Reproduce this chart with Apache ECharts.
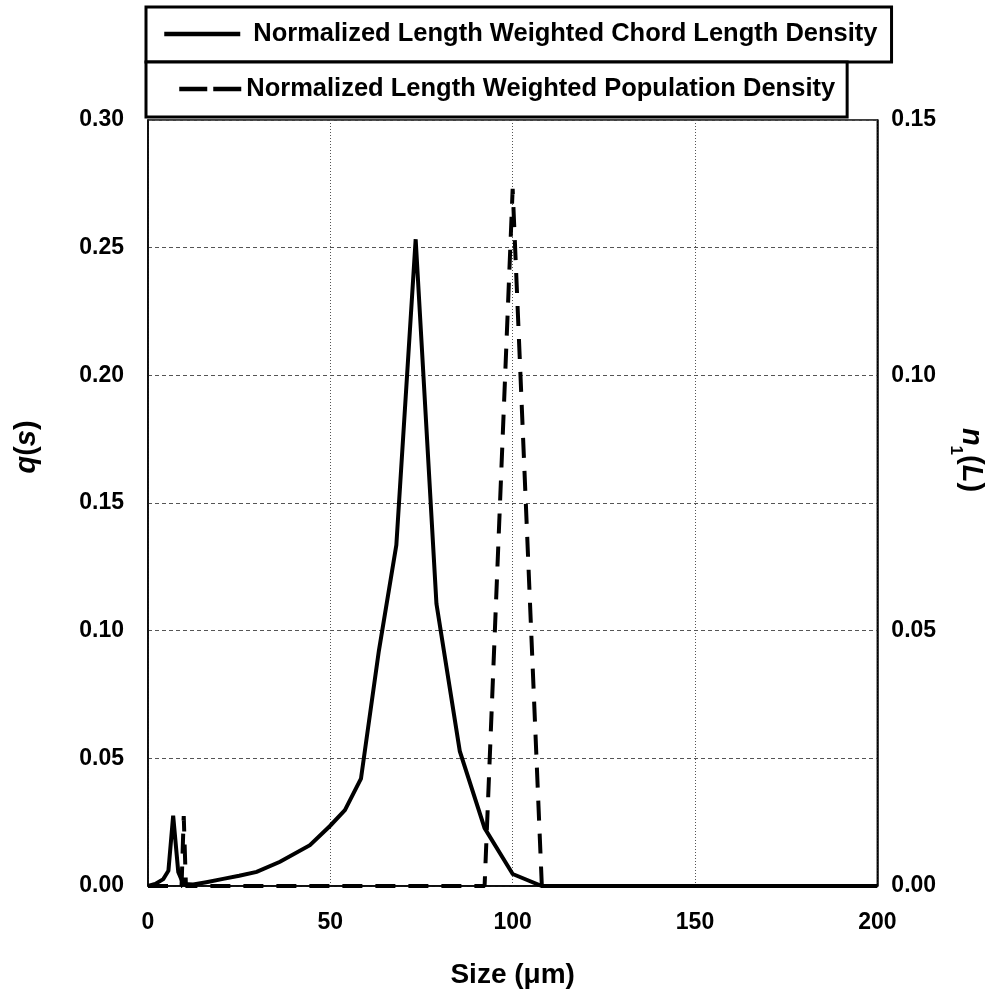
<!DOCTYPE html>
<html><head><meta charset="utf-8">
<script src="https://cdn.jsdelivr.net/npm/echarts@6/dist/echarts.min.js"></script>
<style>html,body{margin:0;padding:0;background:#fff}#c{width:993px;height:994px}</style>
</head><body><div id="c"></div>
<script>
const chordX = [0, 2, 4.2, 5.6, 6.9, 8.3, 9.7, 12.4, 16, 20.6, 25, 29.8, 36.2, 44.4, 49.9, 54, 58.4, 63.3, 68.1, 73.4, 79.1, 85.5, 92.3, 100, 108, 150, 200];
const chordY = [0, 0.0008, 0.0027, 0.006, 0.0275, 0.0055, 0.0008, 0.0006, 0.0015, 0.0028, 0.004, 0.0055, 0.0095, 0.016, 0.0235, 0.0297, 0.042, 0.092, 0.1335, 0.2533, 0.1105, 0.0528, 0.0227, 0.0047, 0, 0, 0];
const popX = [0, 9.2, 9.8, 10.4, 50, 92.3, 100, 108, 150, 200];
const popY = [0, 0, 0.0137, 0, 0, 0, 0.1365, 0, 0, 0];
const xTicks = [0, 50, 100, 150, 200];
const leftTicks = [0, 0.05, 0.10, 0.15, 0.20, 0.25, 0.30];
const rightTicks = [0, 0.05, 0.10, 0.15];
const seriesNames = ['Normalized Length Weighted Chord Length Density', 'Normalized Length Weighted Population Density'];

const FONT = "'Liberation Sans', Arial, sans-serif";
const chart = echarts.init(document.getElementById('c'));
const lab = {fontFamily: FONT, fontWeight: 'bold', fontSize: 23, color: '#000'};
const legTxt = {fontFamily: FONT, fontWeight: 'bold', fontSize: 25.5, color: '#000', lineHeight: 28};
chart.setOption({
  animation: false,
  backgroundColor: '#fff',
  grid: {left: 148, right: 115, top: 120, bottom: 107, show: true, borderColor: '#000', borderWidth: 1.5},
  legend: [
    {data: [seriesNames[0]], left: 146, top: 7, orient: 'horizontal',
     padding: [13, 14, 14, 16], itemWidth: 76, itemHeight: 20, itemGap: 15,
     borderColor: '#000', borderWidth: 3, backgroundColor: '#fff',
     itemStyle: {opacity: 0}, lineStyle: {width: 4.5, color: '#000', type: 'solid', opacity: 1},
     textStyle: Object.assign({}, legTxt, {padding: [0, 0, 0, 8]})},
    {data: [seriesNames[1]], left: 146, top: 62, orient: 'horizontal',
     padding: [13, 12, 14, 31], itemWidth: 62, itemHeight: 20, itemGap: 6,
     borderColor: '#000', borderWidth: 3, backgroundColor: '#fff',
     itemStyle: {opacity: 0}, lineStyle: {width: 4.5, color: '#000', type: [28, 6], opacity: 1},
     textStyle: legTxt}
  ],
  xAxis: {
    type: 'value', min: 0, max: 200, interval: 50,
    name: 'Size (μm)', nameLocation: 'middle', nameGap: 75,
    nameTextStyle: Object.assign({}, lab, {fontSize: 28}),
    axisLine: {lineStyle: {color: '#000', width: 1.5}},
    axisTick: {show: false},
    axisLabel: Object.assign({}, lab, {margin: 25, customValues: xTicks}),
    splitLine: {show: true, lineStyle: {color: '#555', type: [1, 2], width: 1}}
  },
  yAxis: [
    {type: 'value', min: 0, max: 0.30, interval: 0.05, position: 'left',
     name: '{i|q}{n|(}{i|s}{n|)}', nameLocation: 'middle', nameGap: 107, nameRotate: 90,
     nameTextStyle: {padding: [0, 0, 0, 112], rich: {
       i: Object.assign({}, lab, {fontSize: 29, fontStyle: 'italic'}),
       n: Object.assign({}, lab, {fontSize: 29})}},
     axisLine: {show: true, lineStyle: {color: '#000', width: 1.5}},
     axisTick: {show: false},
     axisLabel: Object.assign({}, lab, {margin: 24, formatter: v => v.toFixed(2)}),
     splitLine: {show: true, lineStyle: {color: '#555', type: [4, 3], width: 1}}},
    {type: 'value', min: 0, max: 0.15, interval: 0.05, position: 'right',
     name: '{i|n}{s|1}{n|(}{i|L}{n|)}', nameLocation: 'middle', nameGap: 66, nameRotate: -90,
     nameTextStyle: {padding: [0, 86, 0, 0], rich: {
       i: Object.assign({}, lab, {fontSize: 29, fontStyle: 'italic', verticalAlign: 'top', lineHeight: 32}),
       s: Object.assign({}, lab, {fontSize: 17, verticalAlign: 'top', lineHeight: 16, padding: [21, 0, 0, 0]}),
       n: Object.assign({}, lab, {fontSize: 29, verticalAlign: 'top', lineHeight: 32})}},
     axisLine: {show: true, lineStyle: {color: '#000', width: 1.5}},
     axisTick: {show: false},
     axisLabel: Object.assign({}, lab, {margin: 14, formatter: v => v.toFixed(2)}),
     splitLine: {show: false}}
  ],
  series: [
    {name: seriesNames[0], type: 'line', yAxisIndex: 0,
     symbol: 'none', data: chordX.map((x, i) => [x, chordY[i]]),
     lineStyle: {color: '#000', width: 4, join: 'miter'}, itemStyle: {color: '#000'}, z: 3},
    {name: seriesNames[1], type: 'line', yAxisIndex: 1,
     symbol: 'none', data: popX.map((x, i) => [x, popY[i]]),
     lineStyle: {color: '#000', width: 4, type: [20, 13]}, itemStyle: {color: '#000'}, z: 2}
  ]
});
</script></body></html>
